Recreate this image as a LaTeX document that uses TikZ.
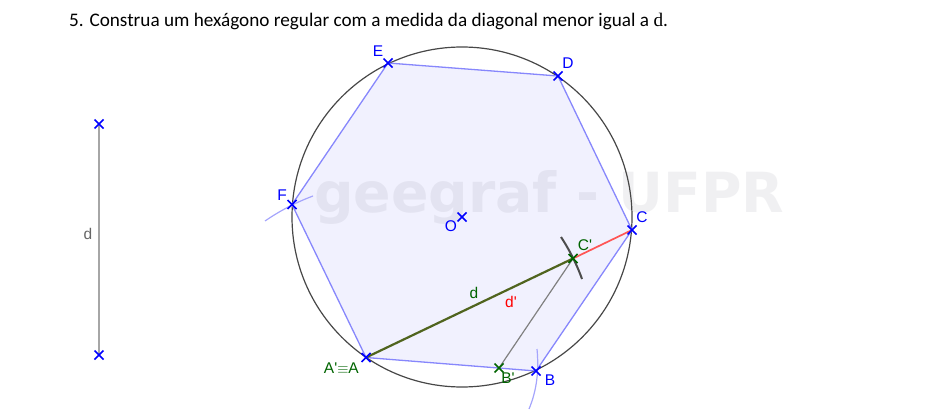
\documentclass[tikz,border=0pt]{standalone}
\usepackage{fontspec}
\setmainfont{Carlito}
\newfontfamily\lab{Liberation Sans}
\newfontfamily\wm{DejaVu Sans}[BoldFont={DejaVu Sans Bold}]
\newfontfamily\serifd{Liberation Serif}
\usetikzlibrary{shapes.misc}
\definecolor{ptblue}{RGB}{0,0,255}
\definecolor{ptgreen}{RGB}{0,100,0}
\definecolor{hexfill}{RGB}{241,241,254}
\definecolor{hexline}{RGB}{135,135,252}
\definecolor{arcblue}{RGB}{165,165,252}
\definecolor{wmark}{RGB}{60,60,80}
\definecolor{dseg}{RGB}{80,100,30}
\definecolor{dpseg}{RGB}{255,85,85}
\tikzset{
  crossmark/.style={draw=#1,line width=1.7pt,cross out,minimum size=9pt,inner sep=0pt,outer sep=0pt},
  crossmark/.default=ptblue,
  lbl/.style={font=\lab\fontsize{15.5}{15.5}\selectfont,inner sep=0pt,text=#1},
  side/.style={draw=hexline,line width=1.3pt},
  arcb/.style={draw=arcblue,line width=1.2pt},
}
\begin{document}
\begin{tikzpicture}[x=1pt,y=-1pt]
\useasboundingbox (0,0) rectangle (950,420);
% anchors of the figure
\coordinate (A) at (366,357.5);
\coordinate (B) at (536,371);
\coordinate (C) at (632,230);
\coordinate (D) at (558,76);
\coordinate (E) at (388,63);
\coordinate (F) at (292,204.5);
\coordinate (O) at (462,217);
\coordinate (P) at (99,124);
\coordinate (Q) at (99,355);
\coordinate (Cp) at (573,258.5);
\coordinate (Bp) at (499,368);
\fill[hexfill] (A) -- (B) -- (C) -- (D) -- (E) -- (F) -- cycle;
\node[anchor=base west,inner sep=0pt,text=wmark,opacity=0.075,font=\wm\bfseries\fontsize{55.3}{55.3}\selectfont] (wm) at (314,212) {geegraf - UFPR};
\draw[black!72,line width=1.2pt] (O) circle (170);
\draw[side] (A) -- (B);
\draw[side] (B) -- (C);
\draw[side] (C) -- (D);
\draw[side] (D) -- (E);
\draw[side] (E) -- (F);
\draw[side] (F) -- (A);
% arcs
\draw[arcb] (265,221) .. controls (281,210) and (297,202) .. (313,196);
\draw[arcb] (529,409) .. controls (537,390) and (539,370) .. (537,349);
\draw[black!70,line width=2pt] (561,237) .. controls (567,246) and (576,262) .. (582,279);
% segments
\draw[black!35,line width=1.7pt] (P) -- (Q);
\draw[black!50,line width=1.2pt] (Cp) -- (Bp);
\draw[dpseg,line width=1.7pt] (Cp) -- (C);
\draw[dseg,line width=2.2pt] (A) -- (Cp);
% crosses
\node[crossmark] (mA) at (A) {};
\node[crossmark] (mB) at (B) {};
\node[crossmark] (mC) at (C) {};
\node[crossmark] (mD) at (D) {};
\node[crossmark] (mE) at (E) {};
\node[crossmark] (mF) at (F) {};
\node[crossmark] (mO) at (O) {};
\node[crossmark] (mP) at (P) {};
\node[crossmark] (mQ) at (Q) {};
\node[crossmark=ptgreen] (mCp) at (Cp) {};
\node[crossmark=ptgreen] (mBp) at (Bp) {};
% labels
\node[lbl=ptblue] (lE) at (378,51) {E};
\node[lbl=ptblue] (lD) at (568,63) {D};
\node[lbl=ptblue] (lF) at (282,195) {F};
\node[lbl=ptblue] (lO) at (451,226) {O};
\node[lbl=ptblue] (lC) at (642,217) {C};
\node[lbl=ptblue] (lB) at (550,380) {B};
\node[lbl=ptgreen] (lCp) at (585,245) {C'};
\node[lbl=ptgreen] (lBp) at (508,378) {B'};
\node[lbl=ptgreen,anchor=east] (lA) at (359,368) {A'$\equiv$A};
\node[lbl=ptgreen] (ld) at (474,293) {d};
\node[lbl=red] (ldp) at (511,302) {d'};
\node[lbl=black!60] (ldd) at (88,234) {d};
\node[anchor=base west,inner sep=0pt,font=\fontsize{19.2}{20}\selectfont,text=black] (title) at (69,27) {5. Construa um hexágono regular com a medida da diagonal menor igual a {\serifd d}.};
\end{tikzpicture}
\end{document}
